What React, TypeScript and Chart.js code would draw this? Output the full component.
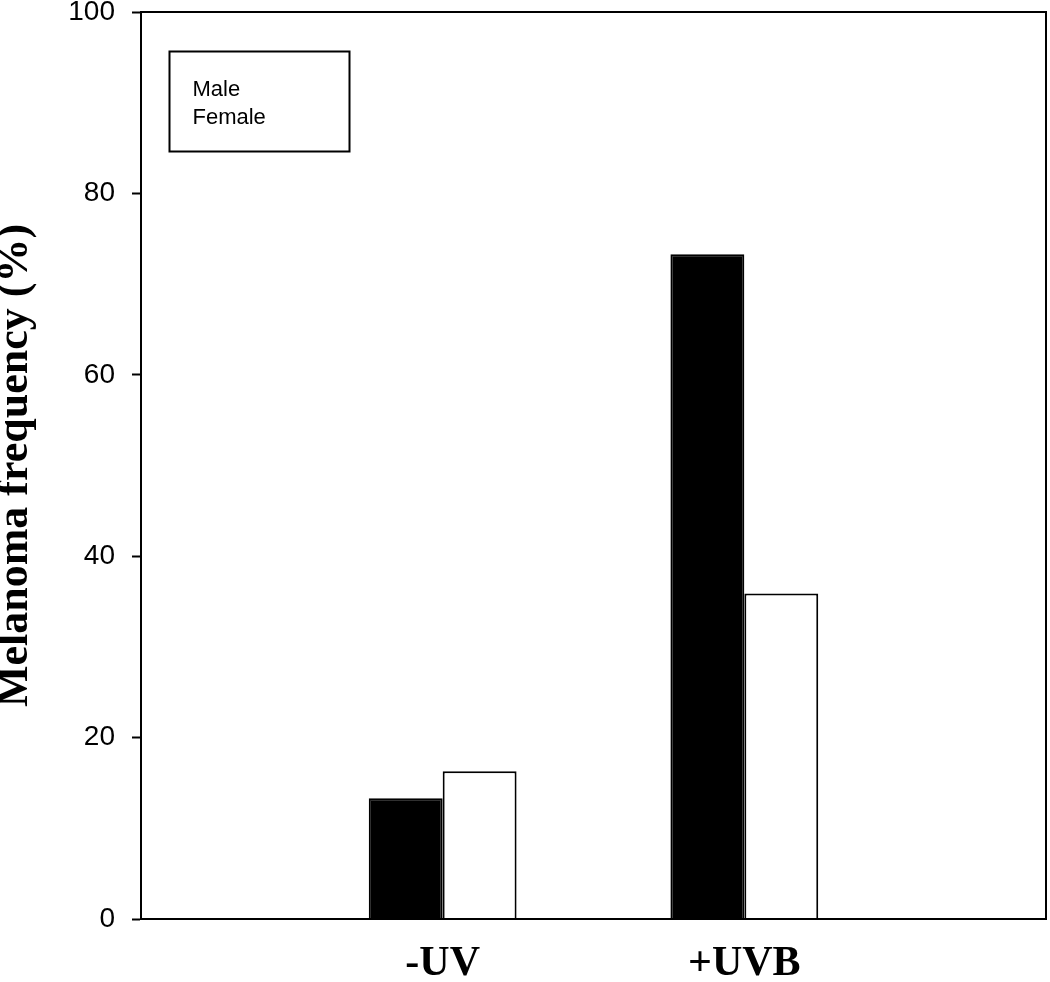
import React, { useEffect, useRef } from 'react';
import { Chart, registerables } from 'chart.js';

Chart.register(...registerables);

const categories = ['', '-UV', '+UVB', ''];
const maleValues = [null, 13.3, 73.3, null];
const femaleValues = [null, 16.3, 35.9, null];
const seriesNames = ['Male', 'Female'];
const yMin = 0;
const yMax = 100;
const yStep = 20;
const yTitle = 'Melanoma frequency (%)';

const framePlugin = {
  id: 'frame',
  afterDatasetsDraw(chart: any) {
    const { ctx, chartArea } = chart;
    ctx.save();
    ctx.strokeStyle = '#000';
    ctx.lineWidth = 2;
    ctx.strokeRect(chartArea.left, chartArea.top, chartArea.right - chartArea.left, chartArea.bottom - chartArea.top);
    ctx.restore();
  },
};

const boxLegendPlugin = {
  id: 'boxLegend',
  afterDraw(chart: any) {
    const { ctx, chartArea } = chart;
    const x = chartArea.left + 28.5;
    const y = chartArea.top + 39.5;
    ctx.save();
    ctx.strokeStyle = '#000';
    ctx.lineWidth = 2;
    ctx.strokeRect(x, y, 180, 100);
    ctx.fillStyle = '#000';
    ctx.font = '22px "Liberation Sans", Arial, sans-serif';
    ctx.textBaseline = 'alphabetic';
    ctx.textAlign = 'left';
    chart.data.datasets.forEach((ds: any, i: number) => {
      ctx.fillText(ds.label, x + 23, y + 44 + i * 28);
    });
    ctx.restore();
  },
};

export default function App() {
  const ref = useRef<HTMLCanvasElement | null>(null);
  useEffect(() => {
    if (!ref.current) return;
    const chart = new Chart(ref.current, {
      type: 'bar',
      data: {
        labels: categories,
        datasets: [
          {
            label: seriesNames[0],
            data: maleValues,
            backgroundColor: '#000',
            borderColor: '#000',
            borderWidth: 2,
            categoryPercentage: 0.49,
            barPercentage: 1,
          },
          {
            label: seriesNames[1],
            data: femaleValues,
            backgroundColor: '#fff',
            borderColor: '#000',
            borderWidth: 2,
            categoryPercentage: 0.49,
            barPercentage: 1,
          },
        ] as any,
      },
      options: {
        responsive: false,
        animation: false,
        devicePixelRatio: 1,
        layout: { padding: { top: 12, right: 4, left: 0, bottom: 0 } },
        plugins: {
          legend: { display: false },
          tooltip: { enabled: false },
        },
        scales: {
          x: {
            type: 'category',
            offset: false,
            grid: { display: false, drawTicks: false },
            border: { display: true, color: '#000', width: 2 },
            ticks: {
              color: '#000',
              padding: 20,
              maxRotation: 0,
              autoSkip: false,
              font: { family: '"Liberation Serif", "Times New Roman", serif', size: 42, weight: 'bold' },
            },
            afterFit(scale: any) {
              scale.height = 63;
              scale.paddingLeft = 0;
              scale.paddingRight = 0;
            },
          },
          y: {
            min: yMin,
            max: yMax,
            grid: { drawOnChartArea: false, drawTicks: true, tickLength: 9, tickWidth: 2, tickColor: '#000' },
            border: { display: true, color: '#000', width: 2 },
            ticks: {
              stepSize: yStep,
              color: '#000',
              padding: 17,
              font: { family: '"Liberation Sans", Arial, sans-serif', size: 28 },
            },
            title: {
              display: true,
              text: yTitle,
              color: '#000',
              padding: 0,
              font: { family: '"Liberation Serif", "Times New Roman", serif', size: 44, weight: 'bold', lineHeight: 0.72 },
            },
            afterFit(scale: any) {
              scale.width = 141;
              scale.paddingTop = 0;
              scale.paddingBottom = 0;
            },
          },
        },
      } as any,
      plugins: [framePlugin, boxLegendPlugin],
    });
    return () => chart.destroy();
  }, []);
  return (
    <div style={{ position: 'absolute', left: 0, top: 0, width: 1050, height: 982, background: '#fff' }}>
      <canvas ref={ref} width={1050} height={982} />
    </div>
  );
}
